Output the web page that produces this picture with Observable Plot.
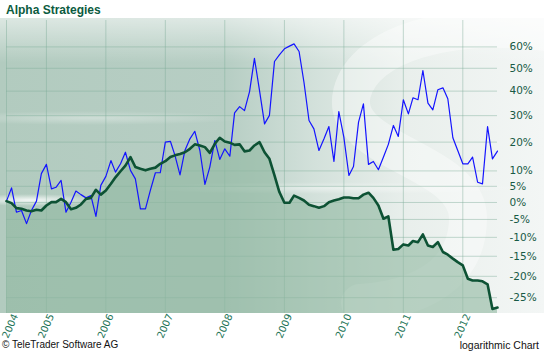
<!DOCTYPE html>
<html><head><meta charset="utf-8">
<script src="https://cdn.jsdelivr.net/npm/d3@7"></script>
<script src="https://cdn.jsdelivr.net/npm/@observablehq/plot@0.6"></script>
<style>
body{margin:0;background:#fff;}
#wrap{position:relative;width:544px;height:353px;overflow:hidden;background:#fff;}
#bg{position:absolute;left:0;top:18px;width:544px;height:295px;overflow:hidden;z-index:0;
 background:
  radial-gradient(ellipse 70px 6px at 30px 182px, rgba(255,255,255,0.85), rgba(255,255,255,0)),
  radial-gradient(ellipse 160px 7px at 90px 100px, rgba(255,255,255,0.35), rgba(255,255,255,0)),
  radial-gradient(ellipse 200px 6px at 330px 170px, rgba(255,255,255,0.45), rgba(255,255,255,0)),
  linear-gradient(to bottom, rgba(255,255,255,0.55) 0px, rgba(255,255,255,0.0) 45px),
  linear-gradient(to right, #b2cbbf 0%, #b7cec4 42%, #d3e1db 58%, #e9efec 75%, #f3f6f5 100%);}
#logo{position:absolute;left:0;top:0;}
#title{position:absolute;left:6px;top:3px;font:bold 12px "Liberation Sans",Arial,sans-serif;color:#0b5b40;z-index:2;}
#chart{position:absolute;left:0;top:18px;z-index:3;}
#footl{position:absolute;left:2px;top:339px;font:10px "Liberation Sans",Arial,sans-serif;color:#111;z-index:2;}
#footr{position:absolute;right:5px;top:339px;font:10.5px "Liberation Sans",Arial,sans-serif;color:#111;z-index:2;}
</style>
</head><body>
<div id="wrap">
  <div id="bg"><svg id="logo" width="544" height="295">
    <path d="M 545 14 C 450 2, 365 25, 352 75 C 338 135, 468 140, 468 200 C 468 262, 410 282, 360 285"
      fill="none" stroke="rgba(255,255,255,0.38)" stroke-width="38" stroke-linecap="round"/>
  </svg></div>
  <div id="title">Alpha Strategies</div>
  <div id="chart"></div>
  <div id="footl">© TeleTrader Software AG</div>
  <div id="footr">logarithmic Chart</div>
</div>
<script>
// monthly values (% change), May 2004 .. Aug 2012
const startYear = 2004, startMonth = 4;
const blueSeries = [0.4, 4.5, -2.9, -2.4, -6.2, -2.4, 0.4, 9.1, 12.2, 4.2,
 4.7, 6.9, -2.9, 0.1, 3.5, 2.4, 1.4, 2.1, -4.1, 5.3,
 8.2, 13.5, 9.6, 12.4, 16.4, 10.2, 7.4, -1.9, -1.9, 3.7,
 9.4, 9.4, 20.0, 20.3, 15.3, 8.7, 17.0, 21.2, 24.0, 17.0,
 5.6, 11.3, 20.6, 13.9, 17.6, 15.0, 31.1, 33.6, 32.0, 39.8,
 54.6, 40.3, 26.8, 30.1, 53.1, 56.2, 59.1, 60.4, 61.5, 57.8,
 43.8, 28.1, 24.9, 17.0, 21.2, 25.8, 13.2, 31.6, 21.7, 8.5,
 11.5, 27.5, 34.7, 12.2, 13.2, 10.4, 14.7, 19.2, 26.2, 22.1,
 36.4, 30.7, 37.2, 36.4, 49.0, 35.0, 32.3, 40.6, 41.4, 36.8,
 21.6, 17.0, 12.4, 12.4, 14.7, 6.3, 5.8, 25.8, 14.1, 16.8];
const greenSeries = [0.4, -0.2, -1.7, -1.9, -2.4, -2.6, -2.2, -2.4, -0.9, 0.1,
 0.1, 1.1, 0.1, -2.0, -1.6, -0.6, 1.1, 1.4, 3.9, 2.4,
 3.7, 5.8, 7.9, 9.9, 11.8, 14.7, 11.3, 10.7, 10.2, 10.7,
 11.1, 12.4, 13.3, 14.7, 15.3, 15.8, 16.4, 17.6, 19.2, 18.8,
 18.2, 16.2, 19.4, 21.6, 20.2, 19.8, 19.0, 19.2, 16.7, 17.0,
 18.8, 20.0, 16.4, 14.1, 8.5, 3.2, -0.1, -0.1, 2.1, 1.4,
 0.6, -0.7, -1.1, -1.6, -1.1, 0.1, 0.6, 1.0, 1.5, 1.5,
 1.3, 1.3, 2.4, 3.0, 1.4, -0.9, -4.8, -4.1, -13.3, -13.1,
 -11.9, -12.2, -11.0, -11.3, -9.2, -12.2, -12.6, -11.3, -13.9, -14.6,
 -15.6, -16.5, -17.3, -20.6, -21.0, -21.0, -21.2, -21.9, -27.5, -27.2];
const yTickPct = [-25, -20, -15, -10, -5, 0, 5, 10, 20, 30, 40, 50, 60];
const yTickLabels = ["-25%", "-20%", "-15%", "-10%", "-5%", "0%", "5%", "10%", "20%", "30%", "40%", "50%", "60%"];
const xTickYears = [2004, 2005, 2006, 2007, 2008, 2009, 2010, 2011, 2012];
const yDomain = [0.715, 1.733];

const data = blueSeries.map((b, i) => ({
  date: new Date(startYear, startMonth + i, 1),
  blue: 1 + b / 100,
  green: 1 + greenSeries[i] / 100
}));
const xTickData = xTickYears.map((y, i) => ({
  date: i === 0 ? new Date(startYear, startMonth, 1) : new Date(y, 0, 1),
  label: String(y)
}));
const yTickData = yTickPct.map((p, i) => ({v: 1 + p / 100, label: yTickLabels[i]}));
const xLabelStyle = {x: "date", text: "label", frameAnchor: "bottom", rotate: -66, textAnchor: "end",
  lineAnchor: "middle", dy: 1, fill: "#237456", fontSize: 10};

const chart = Plot.plot({
  width: 544, height: 322,
  marginTop: 2, marginBottom: 27, marginLeft: 6, marginRight: 47,
  style: {background: "transparent", fontFamily: "DejaVu Sans, sans-serif", fontSize: "10px", overflow: "visible"},
  x: {type: "time", domain: [data[0].date, data[data.length - 1].date], axis: null},
  y: {type: "log", domain: yDomain, axis: null},
  marks: [
    Plot.ruleY(yTickData, {y: "v", stroke: "#7fae98", strokeOpacity: 0.45}),
    Plot.ruleX(xTickData, {x: "date", stroke: "#7fae98", strokeOpacity: 0.45}),
    Plot.areaY(data, {x: "date", y1: yDomain[0], y2: "green", fill: "#8fb8a0", fillOpacity: 0.6}),
    Plot.lineY(data, {x: "date", y: "blue", stroke: "#1414ff", strokeWidth: 1.2}),
    Plot.lineY(data, {x: "date", y: "green", stroke: "#0d5234", strokeWidth: 2.6}),
    Plot.text(yTickData, {y: "v", text: "label", frameAnchor: "right", dx: 12, textAnchor: "start",
      fill: "#175a45", fontSize: 10.5}),
    Plot.text(xTickData.slice(0, 1), {...xLabelStyle, dx: 9}),
    Plot.text(xTickData.slice(1), {...xLabelStyle, dx: 5})
  ]
});
document.getElementById("chart").appendChild(chart);
</script>
</body></html>
